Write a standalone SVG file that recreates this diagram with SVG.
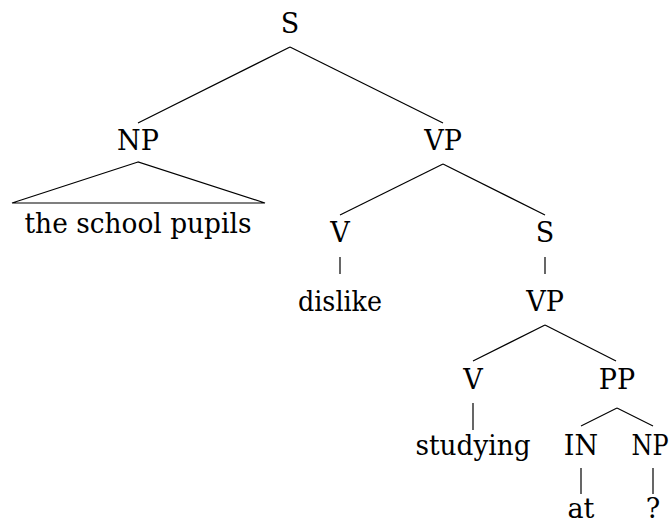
<svg xmlns="http://www.w3.org/2000/svg" width="672" height="524" viewBox="0 0 672 524">
  <style>
    .lbl { font-family: "DejaVu Serif", "Liberation Serif", serif; font-size: 27px; fill: #000; text-anchor: middle; }
    .edge { stroke: #000; stroke-width: 1.2; fill: none; }
  </style>
  <rect width="672" height="524" fill="#fff"/>

  <!-- tree branches -->
  <g id="connectors">
    <line class="edge" x1="290" y1="47" x2="138" y2="123"/>
    <line class="edge" x1="290" y1="47" x2="443" y2="123"/>
    <polygon class="edge" points="138,162 12,203 265,203"/>
    <line class="edge" x1="443" y1="164" x2="340" y2="215"/>
    <line class="edge" x1="443" y1="164" x2="545" y2="215"/>
    <line class="edge" x1="340" y1="257" x2="340" y2="274"/>
    <line class="edge" x1="545" y1="257" x2="545" y2="274"/>
    <line class="edge" x1="545" y1="325" x2="473" y2="361"/>
    <line class="edge" x1="545" y1="325" x2="616" y2="361"/>
    <line class="edge" x1="473" y1="403" x2="473" y2="430"/>
    <line class="edge" x1="617" y1="408" x2="581" y2="426"/>
    <line class="edge" x1="617" y1="408" x2="653" y2="426"/>
    <line class="edge" x1="581" y1="468" x2="581" y2="494"/>
    <line class="edge" x1="653" y1="468" x2="653" y2="494"/>
  </g>

  <!-- nodes -->
  <g id="s-root"><text class="lbl" x="290" y="33">S</text></g>
  <g id="np-subject"><text class="lbl" x="138" y="150">NP</text></g>
  <g id="np-words"><text class="lbl" x="138" y="233" textLength="227" lengthAdjust="spacingAndGlyphs">the school pupils</text></g>
  <g id="vp-main"><text class="lbl" x="443" y="150">VP</text></g>
  <g id="v-main"><text class="lbl" x="340" y="242">V</text></g>
  <g id="word-dislike"><text class="lbl" x="340" y="311" textLength="84" lengthAdjust="spacingAndGlyphs">dislike</text></g>
  <g id="s-embedded"><text class="lbl" x="545" y="242">S</text></g>
  <g id="vp-embedded"><text class="lbl" x="545" y="311">VP</text></g>
  <g id="v-embedded"><text class="lbl" x="473" y="389">V</text></g>
  <g id="pp"><text class="lbl" x="617" y="389">PP</text></g>
  <g id="word-studying"><text class="lbl" x="473" y="455" textLength="115" lengthAdjust="spacingAndGlyphs">studying</text></g>
  <g id="in"><text class="lbl" x="581" y="455">IN</text></g>
  <g id="np-object"><text class="lbl" x="650" y="455" textLength="37" lengthAdjust="spacingAndGlyphs">NP</text></g>
  <g id="word-at"><text class="lbl" x="581" y="518">at</text></g>
  <g id="word-unknown"><text class="lbl" x="653" y="518">?</text></g>
</svg>
